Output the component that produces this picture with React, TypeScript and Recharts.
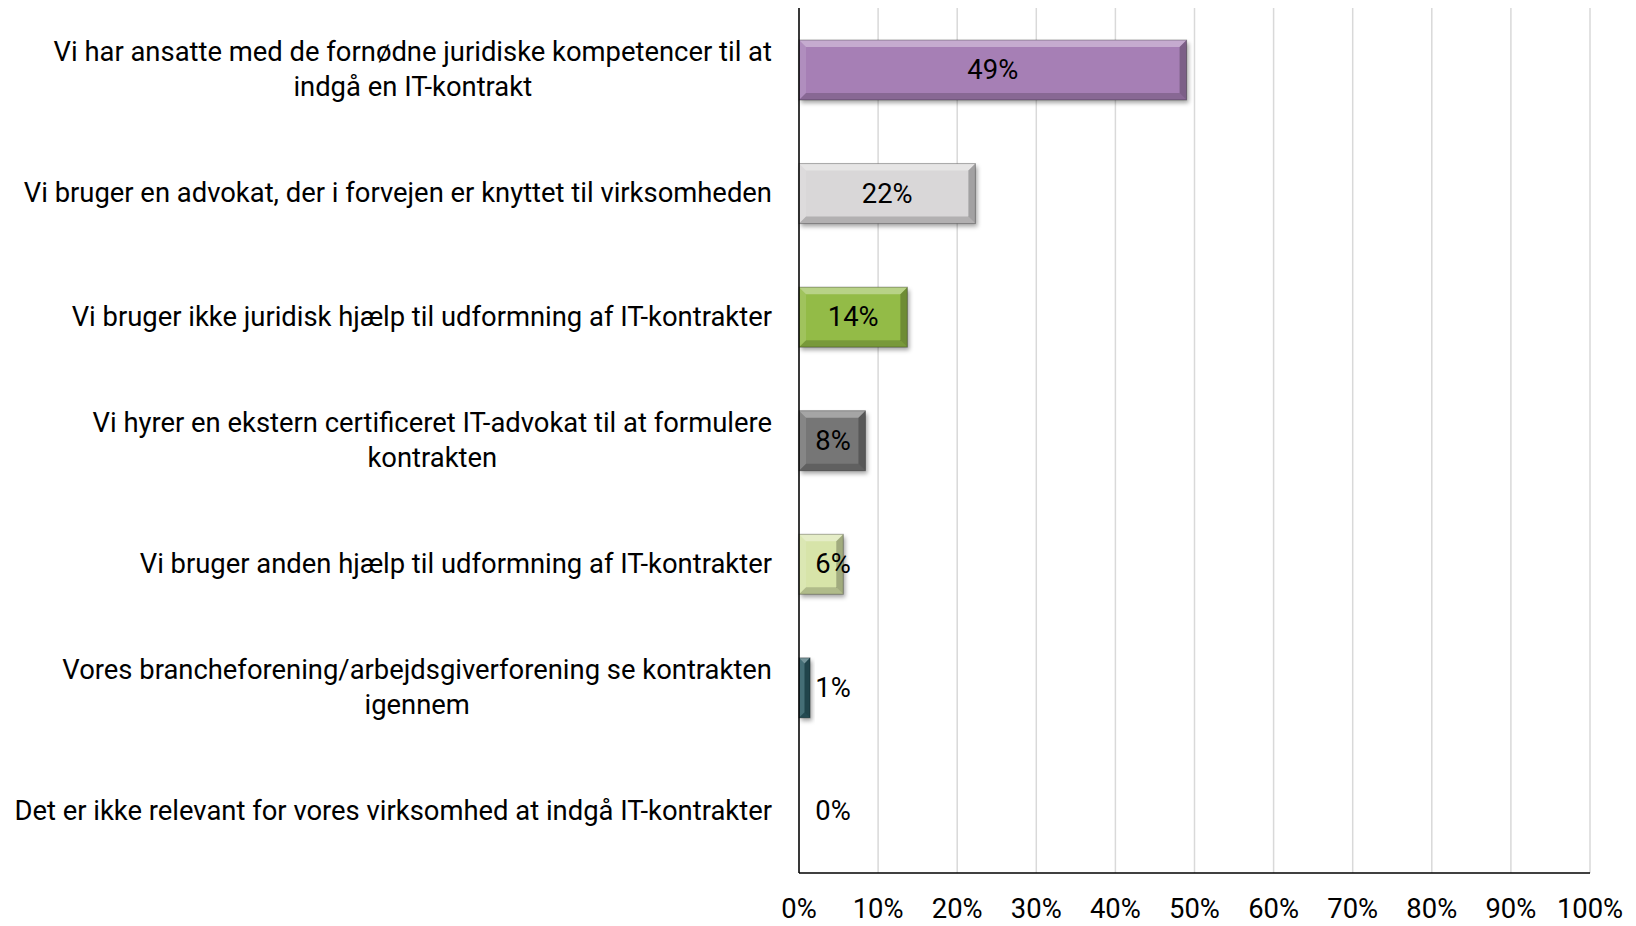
import React from 'react';
import { BarChart, Bar, XAxis, YAxis, CartesianGrid, LabelList, Cell } from 'recharts';

const categories = [
  'Vi har ansatte med de fornødne juridiske kompetencer til at indgå en IT-kontrakt',
  'Vi bruger en advokat, der i forvejen er knyttet til virksomheden',
  'Vi bruger ikke juridisk hjælp til udformning af IT-kontrakter',
  'Vi hyrer en ekstern certificeret IT-advokat til at formulere kontrakten',
  'Vi bruger anden hjælp til udformning af IT-kontrakter',
  'Vores brancheforening/arbejdsgiverforening se kontrakten igennem',
  'Det er ikke relevant for vores virksomhed at indgå IT-kontrakter',
];
const values = [0.49, 0.223, 0.137, 0.084, 0.056, 0.014, 0.0];
const barColors = ['#A67FB5', '#D9D7D8', '#93BB47', '#767676', '#D7E4A9', '#2C5B64', '#4BACC6'];
const xTicks = [0, 0.1, 0.2, 0.3, 0.4, 0.5, 0.6, 0.7, 0.8, 0.9, 1];

const data = categories.map((name, i) => ({ name, value: values[i], color: barColors[i] }));

const FONT = 'Roboto, "Open Sans", sans-serif';
const FS = 27.4;
const WRAP_WIDTH = 770;

let ctx: CanvasRenderingContext2D | null = null;
function measure(s: string) {
  if (!ctx) {
    ctx = document.createElement('canvas').getContext('2d');
  }
  if (!ctx) return s.length * FS * 0.5;
  ctx.font = `${FS}px Roboto`;
  return ctx.measureText(s).width;
}

function wrap(text: string) {
  const words = text.split(' ');
  const lines: string[] = [];
  let cur = '';
  for (const w of words) {
    const next = cur ? cur + ' ' + w : w;
    if (cur && measure(next) > WRAP_WIDTH) {
      lines.push(cur);
      cur = w;
    } else {
      cur = next;
    }
  }
  if (cur) lines.push(cur);
  return lines;
}

const CategoryTick = (props: any) => {
  const { x, y, payload } = props;
  const lines = wrap(payload.value);
  const lh = 35;
  const right = x - 27;
  if (lines.length === 1) {
    return (
      <text x={right} y={y} textAnchor="end" dominantBaseline="central" fontFamily={FONT} fontSize={FS} fill="#000">
        {lines[0]}
      </text>
    );
  }
  const maxW = Math.max(...lines.map(measure));
  const cx = right - maxW / 2;
  const y0 = y - ((lines.length - 1) * lh) / 2;
  return (
    <g>
      {lines.map((l, i) => (
        <text key={i} x={cx} y={y0 + i * lh} textAnchor="middle" dominantBaseline="central" fontFamily={FONT} fontSize={FS} fill="#000">
          {l}
        </text>
      ))}
    </g>
  );
};

const PercentTick = (props: any) => {
  const { x, y, payload } = props;
  return (
    <text x={x} y={y + 36} textAnchor="middle" dominantBaseline="central" fontFamily={FONT} fontSize={FS} fill="#000">
      {Math.round(payload.value * 100)}%
    </text>
  );
};

// excel-ish bevel: light top/left edges, dark bottom/right, soft drop shadow
const renderBevelBar = (props: any) => {
  const x = Number(props.x);
  const y = Number(props.y);
  const width = Number(props.width);
  const height = Number(props.height);
  const fill = props.payload?.color ?? props.fill;
  if (!(width > 0) || !(height > 0)) return <g />;
  const b = Math.min(7, width / 2, height / 2);
  const r = x + width;
  const btm = y + height;
  return (
    <g>
      <rect x={x + 2} y={y + 3} width={width} height={height} fill="rgba(0,0,0,0.35)" filter="url(#barShadow)" />
      <rect x={x} y={y} width={width} height={height} fill={fill} />
      <polygon points={`${x},${y} ${r},${y} ${r - b},${y + b} ${x + b},${y + b}`} fill="rgba(255,255,255,0.35)" />
      <polygon points={`${x},${y} ${x + b},${y + b} ${x + b},${btm - b} ${x},${btm}`} fill="rgba(255,255,255,0.12)" />
      <polygon points={`${x},${btm} ${x + b},${btm - b} ${r - b},${btm - b} ${r},${btm}`} fill="rgba(0,0,0,0.18)" />
      <polygon points={`${r},${y} ${r},${btm} ${r - b},${btm - b} ${r - b},${y + b}`} fill="rgba(0,0,0,0.25)" />
      <rect x={x} y={y} width={width} height={height} fill="none" stroke="rgba(0,0,0,0.3)" strokeWidth={1} />
    </g>
  );
};

const ValueLabel = (props: any) => {
  const { x, y, width, height, value } = props;
  const cx = x + Math.max(width / 2, 34);
  return (
    <text x={cx} y={y + height / 2} textAnchor="middle" dominantBaseline="central" fontFamily={FONT} fontSize={FS} fill="#000">
      {Math.round(value * 100)}%
    </text>
  );
};

export default function App() {
  return (
    <div style={{ position: 'absolute', left: 0, top: 0, width: 1636, height: 926 }}>
      <BarChart
        width={1636}
        height={926}
        data={data}
        layout="vertical"
        barSize={60}
        margin={{ top: 8, right: 46, bottom: 0, left: 0 }}
      >
        <defs>
          <filter id="barShadow" x="-20%" y="-20%" width="140%" height="160%">
            <feGaussianBlur stdDeviation="2" />
          </filter>
        </defs>
        <CartesianGrid horizontal={false} stroke="#D9D9D9" strokeWidth={1.5} />
        <XAxis
          type="number"
          domain={[0, 1]}
          ticks={xTicks}
          height={53}
          axisLine={{ stroke: '#000', strokeWidth: 1.5 }}
          tickLine={false}
          tickSize={0}
          tickMargin={0}
          tick={<PercentTick />}
          interval={0}
        />
        <YAxis
          type="category"
          dataKey="name"
          width={799}
          axisLine={{ stroke: '#000', strokeWidth: 1.5 }}
          tickLine={false}
          tickSize={0}
          tickMargin={0}
          tick={<CategoryTick />}
          interval={0}
        />
        <Bar dataKey="value" shape={renderBevelBar} isAnimationActive={false}>
          {data.map((d, i) => (
            <Cell key={i} fill={d.color} />
          ))}
          <LabelList dataKey="value" content={<ValueLabel />} />
        </Bar>
      </BarChart>
    </div>
  );
}
